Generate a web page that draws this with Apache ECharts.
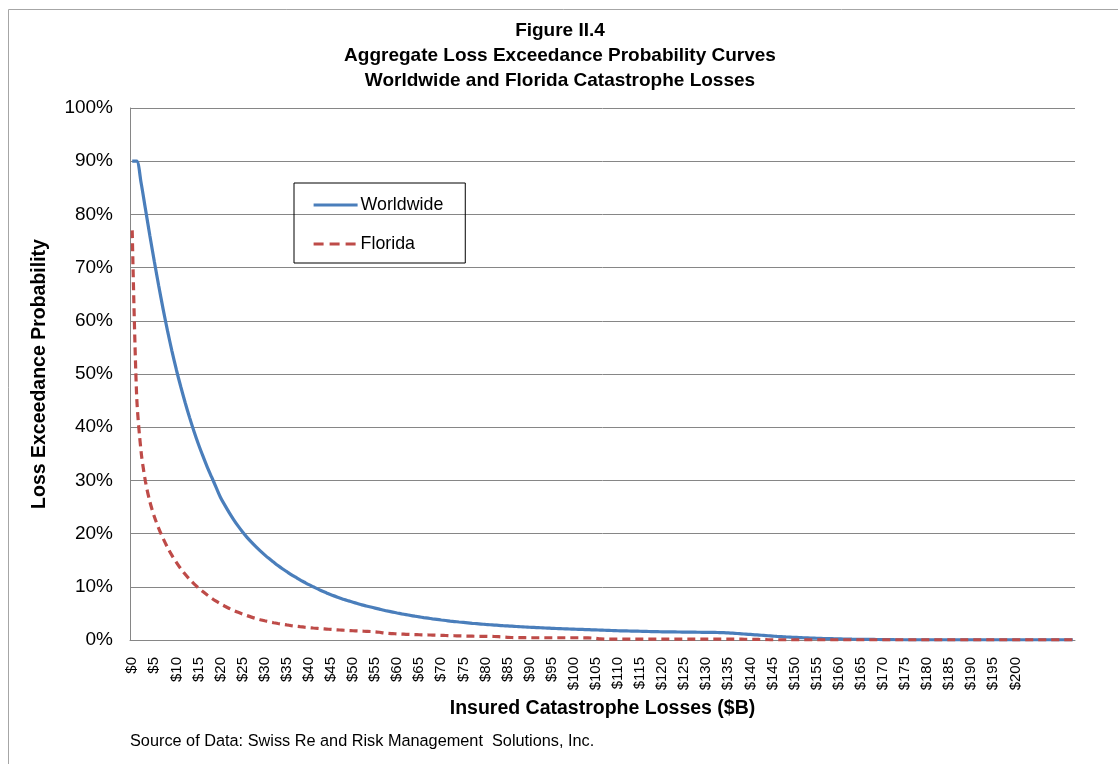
<!DOCTYPE html>
<html>
<head>
<meta charset="utf-8">
<script src="https://cdn.jsdelivr.net/npm/echarts@6/dist/echarts.min.js"></script>
<style>
html,body{margin:0;padding:0;background:#fff;}
#chart{width:1118px;height:764px;}
</style>
</head>
<body>
<div id="chart"></div>
<script>
// ---- Data ----
const titleLines = ['Figure II.4', 'Aggregate Loss Exceedance Probability Curves', 'Worldwide and Florida Catastrophe Losses'];
const xAxisTitle = 'Insured Catastrophe Losses ($B)';
const yAxisTitle = 'Loss Exceedance Probability';
const sourceNote = 'Source of Data: Swiss Re and Risk Management  Solutions, Inc.';
const seriesNames = ['Worldwide', 'Florida'];

// Categories: $0 .. $213 in $1B steps; labels printed only up to $200
const lastCategory = 213;
const lastLabelled = 200;
const categories = [];
for (let i = 0; i <= lastCategory; i++) categories.push(i <= lastLabelled ? '$' + i : '');

// Loss exceedance probability (%) per $1B
const worldwide = [
  90, 90, 86, 81, 76, 71.2, 66.6, 62.2, 58.1, 54.3,
  50.8, 47.6, 44.6, 41.8, 39.2, 36.8, 34.6, 32.5, 30.6, 28.7,
  26.8, 25.3, 23.9, 22.6, 21.4, 20.3, 19.3, 18.4, 17.55, 16.75,
  16, 15.3, 14.65, 14, 13.4, 12.85, 12.3, 11.8, 11.3, 10.85,
  10.4, 10, 9.6, 9.2, 8.85, 8.5, 8.2, 7.9, 7.6, 7.35,
  7.1, 6.85, 6.6, 6.4, 6.2, 6, 5.8, 5.6, 5.42, 5.25,
  5.08, 4.92, 4.77, 4.62, 4.48, 4.35, 4.22, 4.1, 3.98, 3.87,
  3.76, 3.66, 3.56, 3.47, 3.38, 3.3, 3.22, 3.14, 3.07, 3,
  2.93, 2.87, 2.81, 2.75, 2.69, 2.64, 2.59, 2.54, 2.49, 2.44,
  2.4, 2.36, 2.32, 2.28, 2.24, 2.2, 2.16, 2.13, 2.1, 2.07,
  2.04, 2.01, 1.98, 1.95, 1.92, 1.89, 1.86, 1.83, 1.8, 1.77,
  1.74, 1.72, 1.7, 1.68, 1.66, 1.64, 1.62, 1.6, 1.58, 1.56,
  1.54, 1.53, 1.52, 1.51, 1.5, 1.49, 1.48, 1.47, 1.46, 1.45,
  1.44, 1.43, 1.42, 1.4, 1.37, 1.33, 1.28, 1.22, 1.16, 1.1,
  1.04, 0.98, 0.92, 0.86, 0.8, 0.74, 0.68, 0.63, 0.58, 0.54,
  0.5, 0.46, 0.42, 0.39, 0.36, 0.33, 0.3, 0.27, 0.25, 0.23,
  0.21, 0.19, 0.17, 0.15, 0.14, 0.13, 0.12, 0.11, 0.1, 0.09,
  0.08, 0.07, 0.06, 0.05, 0.05, 0.04, 0.04, 0.03, 0.03, 0.03,
  0.02, 0.02, 0.02, 0.02, 0.01, 0.01, 0.01, 0.01, 0.01, 0.01,
  0.01, 0.01, 0.01, 0.01, 0.01, 0.01, 0.01, 0.01, 0.01, 0.01,
  0.01, 0.01, 0.01, 0.01, 0.01, 0.01, 0.01, 0.01, 0.01, 0.01,
  0.01, 0.01, 0.01, 0.01
];
const florida = [
  77, 46, 35.5, 29.8, 26, 23.2, 21, 19.1, 17.4, 15.9,
  14.6, 13.4, 12.35, 11.4, 10.55, 9.8, 9.1, 8.45, 7.85, 7.3,
  6.8, 6.35, 5.93, 5.55, 5.2, 4.88, 4.58, 4.3, 4.05, 3.82,
  3.61, 3.42, 3.25, 3.1, 2.96, 2.83, 2.71, 2.6, 2.5, 2.41,
  2.33, 2.25, 2.18, 2.11, 2.05, 1.99, 1.93, 1.88, 1.83, 1.78,
  1.74, 1.7, 1.66, 1.63, 1.6, 1.55, 1.45, 1.33, 1.25, 1.2,
  1.15, 1.11, 1.07, 1.04, 1.01, 0.99, 0.97, 0.95, 0.93, 0.9,
  0.88, 0.85, 0.82, 0.8, 0.78, 0.76, 0.74, 0.72, 0.7, 0.7,
  0.7, 0.68, 0.66, 0.62, 0.56, 0.5, 0.47, 0.45, 0.44, 0.43,
  0.42, 0.42, 0.42, 0.42, 0.42, 0.42, 0.42, 0.42, 0.42, 0.42,
  0.42, 0.42, 0.41, 0.4, 0.38, 0.3, 0.2, 0.16, 0.15, 0.15,
  0.15, 0.15, 0.15, 0.15, 0.15, 0.15, 0.15, 0.15, 0.15, 0.15,
  0.15, 0.15, 0.15, 0.15, 0.15, 0.15, 0.15, 0.15, 0.15, 0.15,
  0.15, 0.15, 0.15, 0.15, 0.15, 0.15, 0.15, 0.15, 0.15, 0.14,
  0.13, 0.12, 0.1, 0.08, 0.05, 0.03, 0.02, 0.01, 0.01, 0.01,
  0.01, 0.01, 0.01, 0.01, 0.01, 0.01, 0.01, 0.01, 0.01, 0.01,
  0.01, 0.01, 0.01, 0.01, 0.01, 0.01, 0.01, 0.01, 0.01, 0.01,
  0.01, 0.01, 0.01, 0.01, 0.01, 0.01, 0.01, 0.01, 0.01, 0.01,
  0.01, 0.01, 0.01, 0.01, 0.01, 0.01, 0.01, 0.01, 0.01, 0.01,
  0.01, 0.01, 0.01, 0.01, 0.01, 0.01, 0.01, 0.01, 0.01, 0.01,
  0.01, 0.01, 0.01, 0.01, 0.01, 0.01, 0.01, 0.01, 0.01, 0.01,
  0.01, 0.01, 0.01, 0.01
];

// ---- Chart ----
const FONT = '"Liberation Sans", Arial, sans-serif';
const chart = echarts.init(document.getElementById('chart'), null, {renderer: 'canvas'});
chart.setOption({
  backgroundColor: '#fff',
  animation: false,
  textStyle: {fontFamily: FONT},
  title: {
    text: titleLines.join('\n'),
    left: 555, top: 13, textAlign: 'center',
    textStyle: {fontFamily: FONT, fontSize: 19, fontWeight: 'bold', color: '#000', lineHeight: 25}
  },
  graphic: [
    {type: 'rect', x: 0, y: 0, shape: {x: 8.5, y: 9.5, width: 1300, height: 900},
     style: {fill: 'none', stroke: '#a6a6a6', lineWidth: 1}, silent: true, z: -1},
    {type: 'text', x: 130, y: 734,
     style: {text: sourceNote, font: '16.3px ' + FONT, fill: '#000'}}
  ],
  legend: {
    orient: 'vertical', left: 294, top: 183,
    padding: [13, 22, 10, 18],
    borderColor: '#000', borderWidth: 1,
    itemWidth: 44, itemHeight: 16, itemGap: 21,
    itemStyle: {opacity: 0},
    lineStyle: {width: 3.2},
    textStyle: {fontFamily: FONT, fontSize: 17.8, color: '#000', padding: [0, 0, 0, -2]},
    data: [
      {name: seriesNames[0]},
      {name: seriesNames[1], lineStyle: {type: [10, 6], width: 3.2}}
    ]
  },
  grid: {left: 130, right: 43, top: 108, bottom: 124, containLabel: false},
  xAxis: {
    type: 'category', data: categories, boundaryGap: true,
    name: xAxisTitle, nameLocation: 'middle', nameGap: 56,
    nameTextStyle: {fontFamily: FONT, fontSize: 19.5, fontWeight: 'bold', color: '#000'},
    axisLine: {show: true, lineStyle: {color: '#868686', width: 1}},
    axisTick: {show: false},
    axisLabel: {interval: 4, rotate: 90, margin: 17, fontFamily: FONT, fontSize: 15, color: '#000'},
    splitLine: {show: false}
  },
  yAxis: {
    type: 'value', min: 0, max: 100, interval: 10,
    name: yAxisTitle, nameLocation: 'middle', nameGap: 80, nameRotate: 90,
    nameTextStyle: {fontFamily: FONT, fontSize: 19.5, fontWeight: 'bold', color: '#000'},
    axisLine: {show: true, lineStyle: {color: '#868686', width: 1}},
    axisTick: {show: false},
    axisLabel: {formatter: '{value}%', margin: 17, fontFamily: FONT, fontSize: 19, color: '#000'},
    splitLine: {show: true, lineStyle: {color: '#868686', width: 1}}
  },
  series: [
    {name: seriesNames[0], type: 'line', data: worldwide, showSymbol: false, symbol: 'none',
     smooth: 0.3, lineStyle: {color: '#4A7EBB', width: 3.2}, itemStyle: {color: '#4A7EBB'}, z: 3},
    {name: seriesNames[1], type: 'line', data: florida, showSymbol: false, symbol: 'none',
     smooth: 0.3, lineStyle: {color: '#BE4B48', width: 3.2, type: [8, 5]}, itemStyle: {color: '#BE4B48'}, z: 4}
  ]
});
</script>
</body>
</html>
